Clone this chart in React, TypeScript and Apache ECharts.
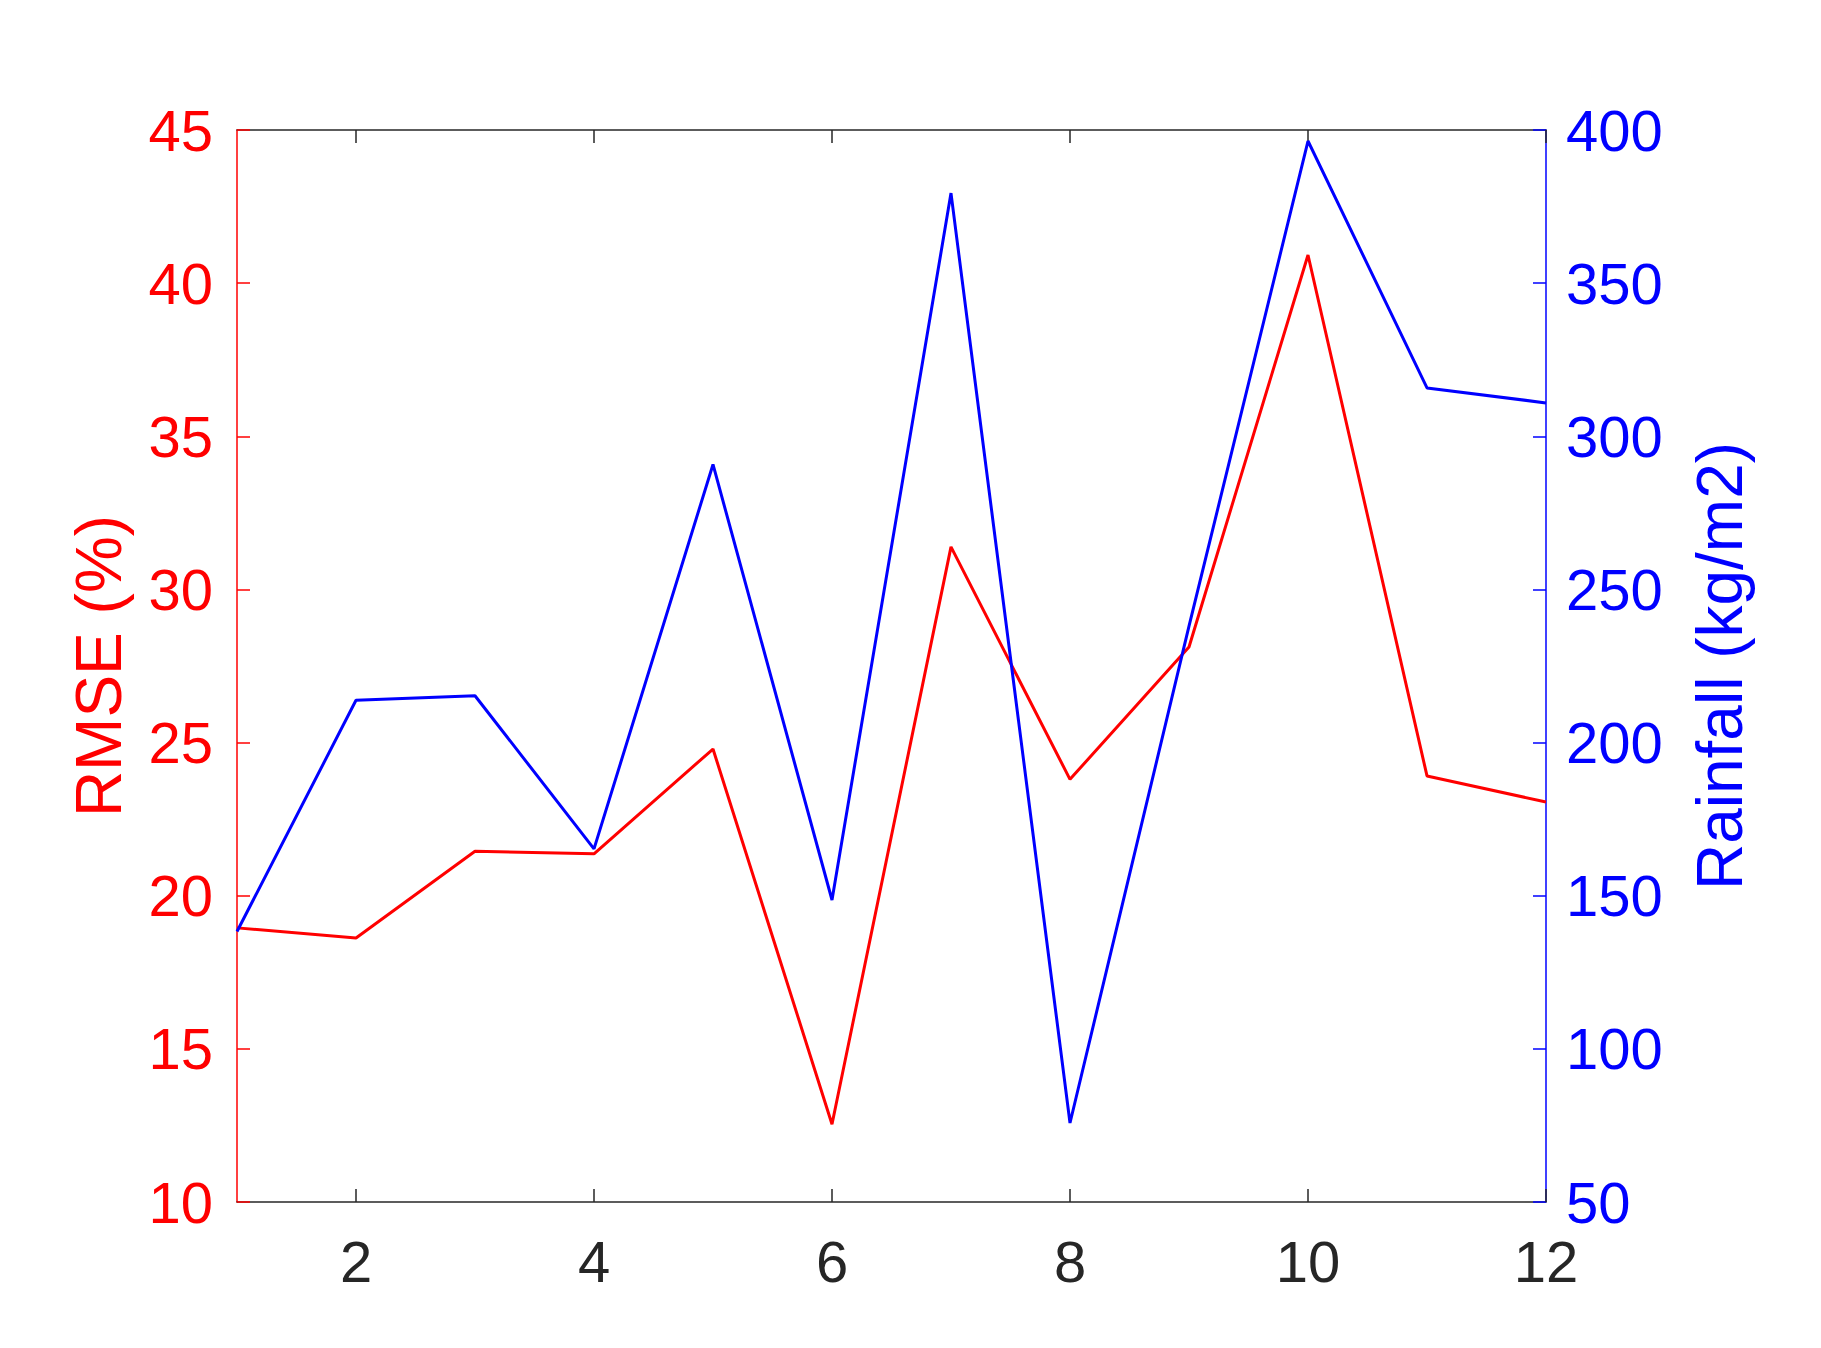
import React, { useEffect, useRef } from "react";
import * as echarts from "echarts";

const xValues = [1, 2, 3, 4, 5, 6, 7, 8, 9, 10, 11, 12];
const rmse = [18.95, 18.62, 21.45, 21.37, 24.79, 12.54, 31.39, 23.8, 28.12, 40.92, 23.91, 23.06];
const rainfall = [138.3, 213.8, 215.3, 165.3, 290.8, 148.6, 379.4, 75.8, 238, 396.4, 315.8, 310.9];
const xTicks = [2, 4, 6, 8, 10, 12];

const FONT = "Liberation Sans, Arial, Helvetica, sans-serif";
const RED = "#ff0000";
const BLUE = "#0000ff";
const GRAY = "#262626";

export default function App() {
  const ref = useRef<HTMLDivElement>(null);
  useEffect(() => {
    document.body.style.margin = "0";
    const chart = echarts.init(ref.current!, null, { renderer: "svg" });
    chart.setOption({
      animation: false,
      backgroundColor: "#ffffff",
      grid: { left: 237, top: 130, right: 275, bottom: 146, containLabel: false },
      xAxis: [
        {
          type: "value",
          position: "bottom",
          min: 1,
          max: 12,
          axisLine: { show: true, lineStyle: { color: GRAY, width: 1.5 } },
          axisTick: { show: true, inside: true, length: 13, customValues: xTicks, lineStyle: { color: GRAY, width: 1.5 } },
          axisLabel: { show: true, customValues: xTicks, color: GRAY, fontSize: 58, fontFamily: FONT, margin: 30 },
          splitLine: { show: false },
        },
        {
          type: "value",
          position: "top",
          min: 1,
          max: 12,
          axisLine: { show: true, onZero: false, lineStyle: { color: GRAY, width: 1.5 } },
          axisTick: { show: true, inside: true, length: 13, customValues: xTicks, lineStyle: { color: GRAY, width: 1.5 } },
          axisLabel: { show: false },
          splitLine: { show: false },
        },
      ],
      yAxis: [
        {
          type: "value",
          position: "left",
          min: 10,
          max: 45,
          interval: 5,
          name: "RMSE (%)",
          nameLocation: "middle",
          nameRotate: 90,
          nameGap: 106,
          nameTextStyle: { color: RED, fontSize: 64, fontFamily: FONT },
          axisLine: { show: true, onZero: false, lineStyle: { color: RED, width: 1.5 } },
          axisTick: { show: true, inside: true, length: 13, lineStyle: { color: RED, width: 1.5 } },
          axisLabel: { color: RED, fontSize: 58, fontFamily: FONT, margin: 24 },
          splitLine: { show: false },
        },
        {
          type: "value",
          position: "right",
          min: 50,
          max: 400,
          interval: 50,
          name: "Rainfall (kg/m2)",
          nameLocation: "middle",
          nameRotate: 90,
          nameGap: 142,
          nameTextStyle: { color: BLUE, fontSize: 64, fontFamily: FONT },
          axisLine: { show: true, onZero: false, lineStyle: { color: BLUE, width: 1.5 } },
          axisTick: { show: true, inside: true, length: 13, lineStyle: { color: BLUE, width: 1.5 } },
          axisLabel: { color: BLUE, fontSize: 58, fontFamily: FONT, margin: 20 },
          splitLine: { show: false },
        },
      ],
      series: [
        {
          type: "line",
          name: "RMSE",
          xAxisIndex: 0,
          yAxisIndex: 0,
          data: xValues.map((x, i) => [x, rmse[i]]),
          showSymbol: false,
          symbol: "none",
          lineStyle: { color: RED, width: 3 },
          z: 3,
        },
        {
          type: "line",
          name: "Rainfall",
          xAxisIndex: 0,
          yAxisIndex: 1,
          data: xValues.map((x, i) => [x, rainfall[i]]),
          showSymbol: false,
          symbol: "none",
          lineStyle: { color: BLUE, width: 3 },
          z: 4,
        },
      ],
    });
    return () => chart.dispose();
  }, []);
  return <div ref={ref} style={{ width: 1821, height: 1348 }} />;
}
